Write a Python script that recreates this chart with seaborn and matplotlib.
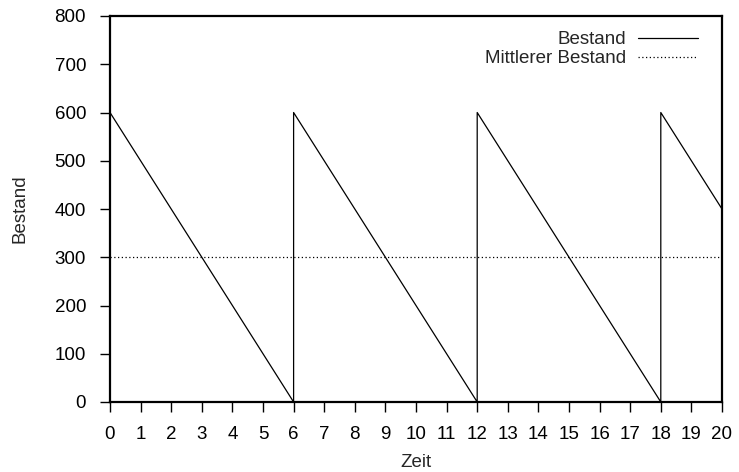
import matplotlib
matplotlib.use("Agg")
import matplotlib.pyplot as plt
import seaborn as sns
import pandas as pd

# Sawtooth stock level: replenished to 600 every 6 periods, consumed linearly
zeit = [0, 6, 6, 12, 12, 18, 18, 20]
bestand = [600, 0, 600, 0, 600, 0, 600, 400]
mittel_zeit = [0, 20]
mittel_bestand = [300, 300]

x_ticks = list(range(0, 21))
y_ticks = list(range(0, 801, 100))

sns.set_style("ticks")
plt.rcParams["font.family"] = ["Liberation Sans", "DejaVu Sans"]

FS = 13.5

fig = plt.figure(figsize=(7.39, 4.72), dpi=100)
ax = fig.add_axes([110 / 739, 1 - 402 / 472, (722 - 110) / 739, (402 - 16) / 472])

df = pd.DataFrame({"Zeit": zeit, "Bestand": bestand})
df_m = pd.DataFrame({"Zeit": mittel_zeit, "Bestand": mittel_bestand})

sns.lineplot(data=df, x="Zeit", y="Bestand", sort=False, estimator=None,
             color="black", linewidth=0.9, ax=ax, label="Bestand")
sns.lineplot(data=df_m, x="Zeit", y="Bestand", sort=False, estimator=None,
             color="black", linewidth=0.9, linestyle=(0, (1, 2)), ax=ax,
             label="Mittlerer Bestand")

ax.set_xlim(0, 20)
ax.set_ylim(0, 800)
ax.set_xticks(x_ticks)
ax.set_yticks(y_ticks)
ax.tick_params(axis="both", direction="out", length=7.2, width=1.0,
               labelsize=FS, colors="black")
ax.tick_params(axis="x", pad=10)
ax.tick_params(axis="y", pad=10)
for side in ["left", "right", "top", "bottom"]:
    ax.spines[side].set_visible(True)
    ax.spines[side].set_linewidth(1.6)
    ax.spines[side].set_color("black")

ax.set_xlabel("Zeit", fontsize=FS, labelpad=8)
ax.set_ylabel("Bestand", fontsize=FS, labelpad=19)

leg = ax.legend(loc="upper right", frameon=False, markerfirst=False,
                fontsize=FS, handlelength=3.2, handletextpad=0.6,
                labelspacing=0.1, borderaxespad=0.25,
                bbox_to_anchor=(1 - 12 / 612, 1 - 3 / 386))
leg._legend_box.align = "right"
for t in leg.get_texts():
    t.set_ha("right")

fig.savefig("out.png", dpi=100)
